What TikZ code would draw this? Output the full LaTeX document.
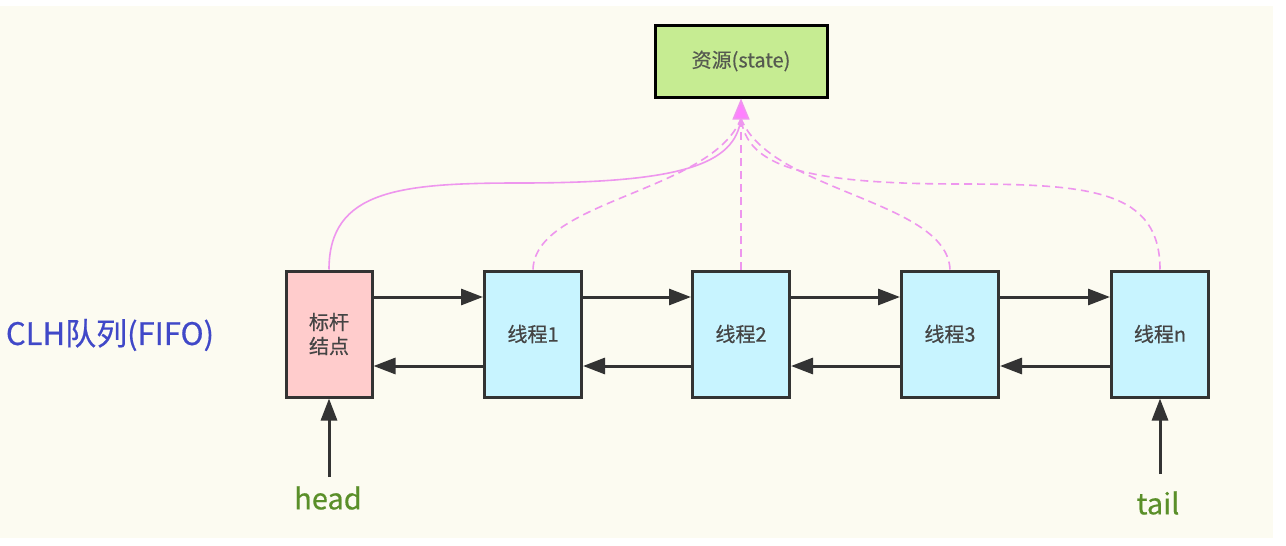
\documentclass[tikz,border=0pt]{standalone}
\usepackage{fontspec}
\setmainfont{Noto Sans CJK SC}[FakeBold=0.5]
\newfontfamily\semib{Noto Sans CJK SC}[FakeBold=0.5]
\usetikzlibrary{arrows.meta}
\definecolor{bgcream}{HTML}{FCFBF1}
\definecolor{boxline}{HTML}{333333}
\definecolor{pinkfill}{HTML}{FFCCCC}
\definecolor{bluefill}{HTML}{C8F4FF}
\definecolor{greenfill}{HTML}{C6EC92}
\definecolor{linkpink}{HTML}{EE96EE}
\definecolor{tippink}{HTML}{FF80FF}
\definecolor{clhblue}{HTML}{4048C8}
\definecolor{labgreen}{HTML}{5A8F29}
\definecolor{boxtext}{HTML}{444444}
\begin{document}
\begin{tikzpicture}[x=1pt,y=-1pt,
  qbox/.style={draw=boxline, line width=3pt, minimum height=126pt, inner sep=0pt,
    text=boxtext, font=\semib\fontsize{20}{24}\selectfont, align=center},
  threadbox/.style={qbox, fill=bluefill, minimum width=97pt},
  link/.style={draw=boxline, line width=3pt, -{Triangle[length=22pt,width=16pt]}},
  share/.style={draw=linkpink, line width=1.6pt},
  sharedash/.style={share, dash pattern=on 8pt off 5pt},
  bigtext/.style={font=\semib\fontsize{29}{34}\selectfont}
]
\useasboundingbox (0,0) rectangle (1286,546);
\fill[white] (0,0) rectangle (1286,546);
\fill[bgcream] (0,6) rectangle (1273,538);

\node[draw=black, line width=3pt, fill=greenfill, minimum width=172pt, minimum height=72pt,
  inner sep=0pt, text={rgb,255:red,85;green,90;blue,80}, font=\semib\fontsize{20}{24}\selectfont]
  (state) at (741,61) {资源(state)};

\node[qbox, fill=pinkfill, minimum width=86pt] (h0) at (329,334) {标杆\\结点};
\node[threadbox] (t1) at (533,334) {线程1};
\node[threadbox] (t2) at (741,334) {线程2};
\node[threadbox] (t3) at (950,334) {线程3};
\node[threadbox] (tn) at (1160,334) {线程n};

\node[text=clhblue, font=\semib\fontsize{31}{36}\selectfont] (clh) at (110,335) {CLH队列(FIFO)};
\node[text=labgreen, bigtext] (head) at (328,498) {head};
\node[text=labgreen, bigtext] (tail) at (1158,503) {tail};

% forward / backward links
\foreach \a/\b in {h0/t1, t1/t2, t2/t3, t3/tn}{
  \draw[link] ([yshift=37pt]\a.east) -- ([yshift=37pt]\b.west);
  \draw[link] ([yshift=-32pt]\b.west) -- ([yshift=-32pt]\a.east);
}

% head / tail pointers
\coordinate (headfoot) at (329,477);
\coordinate (tailfoot) at (1160,474);
\draw[link] (headfoot) -- (h0.south);
\draw[link] (tailfoot) -- (tn.south);

% links to shared state
\coordinate (merge) at ([yshift=-20pt]state.south);
\draw[share] (h0.north) .. controls (329,190) and (400,183) .. (520,183)
  .. controls (680,183) and (735,165) .. (merge);
\draw[sharedash] (t1.north) .. controls (535,200) and (712,192) .. (merge);
\draw[sharedash] (t3.north) .. controls (947,200) and (770,192) .. (merge);
\draw[sharedash] (tn.north) .. controls (1160,190) and (1090,184) .. (960,184)
  .. controls (800,184) and (747,165) .. (merge);
\draw[share, -{Triangle[length=21pt,width=17pt,fill=tippink]}]
  (merge) -- (state.south);
\draw[sharedash] (t2.north) -- (merge);
\end{tikzpicture}
\end{document}
